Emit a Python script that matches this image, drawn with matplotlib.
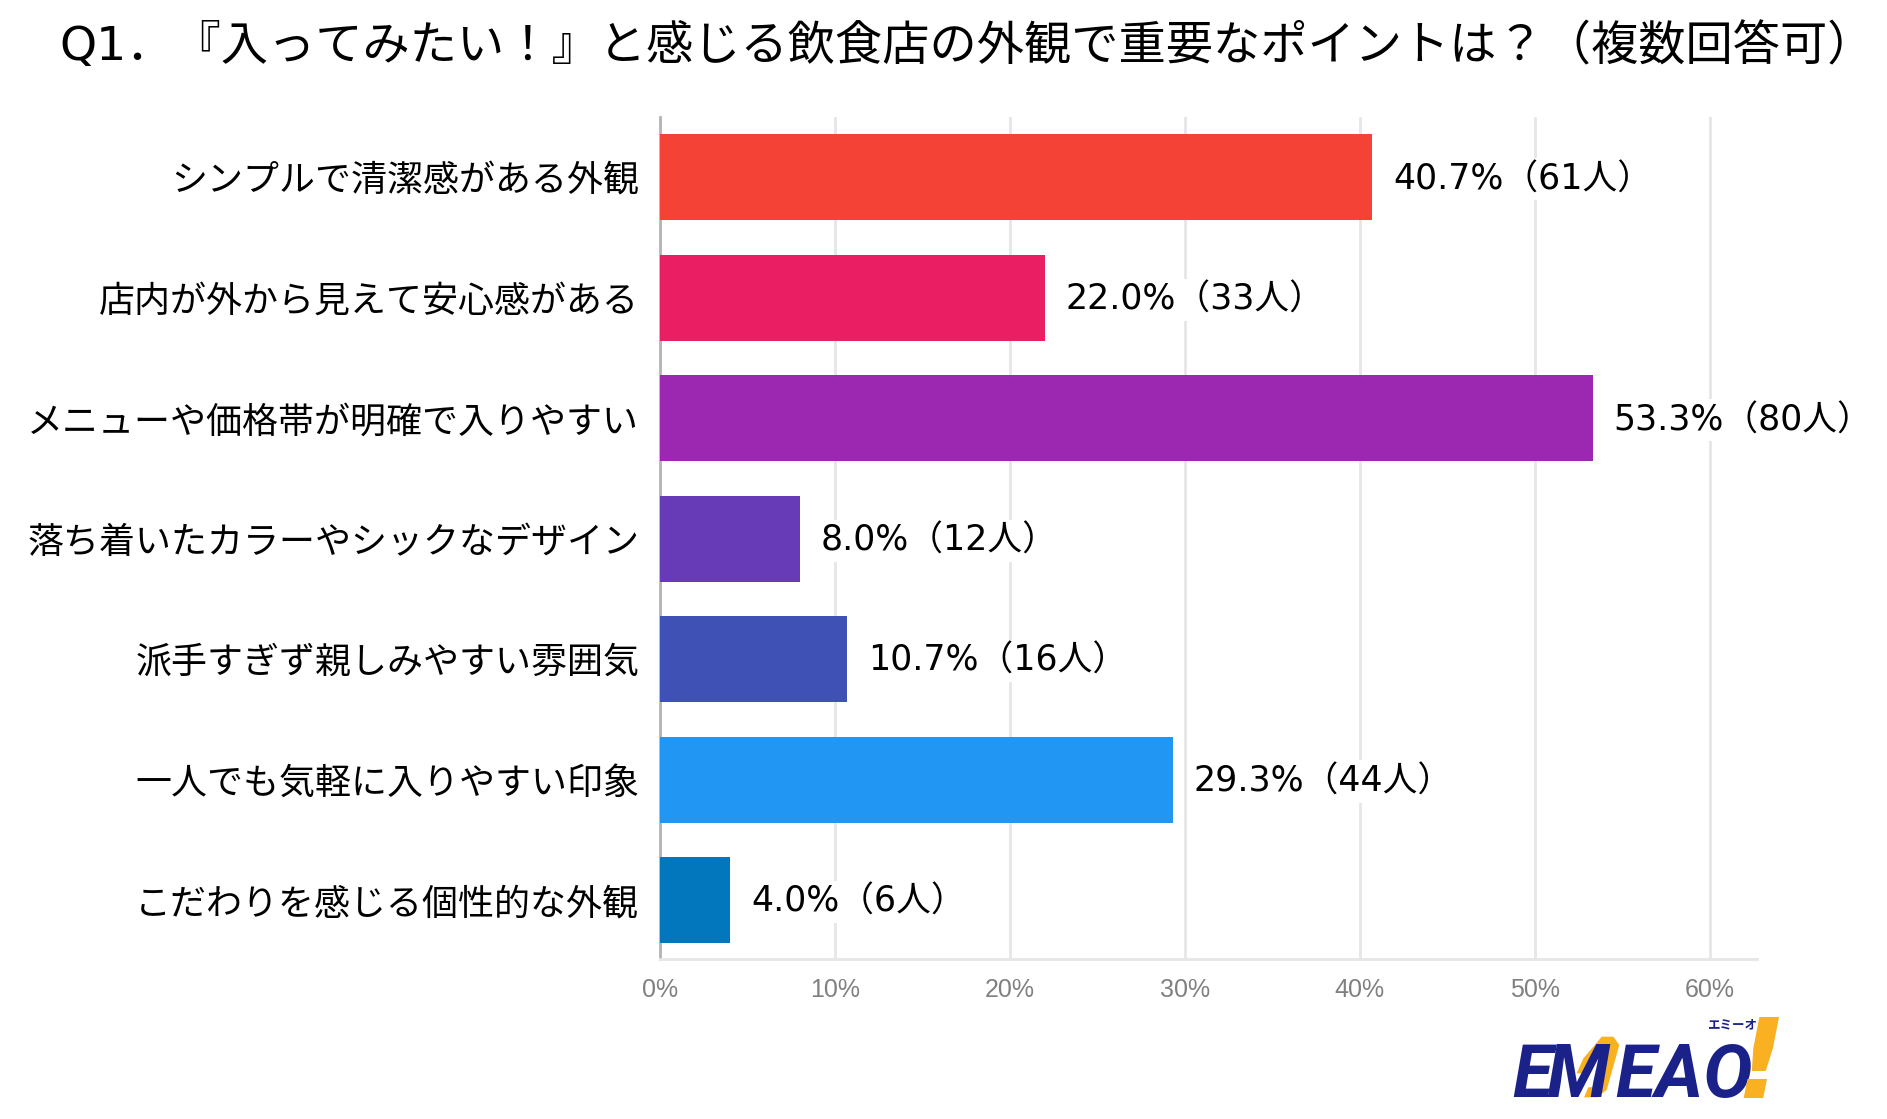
import matplotlib
matplotlib.use("Agg")
import matplotlib.pyplot as plt
from matplotlib.patches import Polygon

plt.rcParams['font.family'] = ['Noto Sans CJK JP', 'DejaVu Sans']

title = "Q1．『入ってみたい！』と感じる飲食店の外観で重要なポイントは？（複数回答可）"
categories = ["シンプルで清潔感がある外観", "店内が外から見えて安心感がある", "メニューや価格帯が明確で入りやすい",
              "落ち着いたカラーやシックなデザイン", "派手すぎず親しみやすい雰囲気", "一人でも気軽に入りやすい印象",
              "こだわりを感じる個性的な外観"]
percents = [40.7, 22.0, 53.3, 8.0, 10.7, 29.3, 4.0]
counts = [61, 33, 80, 12, 16, 44, 6]
colors = ["#F44336", "#E91E63", "#9C27B0", "#673AB7", "#3F51B5", "#2196F3", "#0277BD"]
ticks = [0, 10, 20, 30, 40, 50, 60]

W, H = 1887, 1119
wide_latin = ['DejaVu Sans', 'Noto Sans CJK JP']

fig = plt.figure(figsize=(W / 100, H / 100), dpi=100)
ax = fig.add_axes([660 / W, 1 - 959 / H, (1757 - 660) / W, (959 - 117) / H])

ax.barh(range(len(categories)), percents, height=0.714, color=colors, zorder=3)
ax.set_xlim(0, 62.7)
ax.set_ylim(6.49, -0.5)

ax.set_yticks(range(len(categories)))
ax.set_yticklabels(categories, fontsize=25.9, color="black")
ax.tick_params(axis='y', length=0, pad=15)

ax.set_xticks(ticks)
ax.set_xticklabels([f"{t}%" for t in ticks], fontsize=18, color="#808080",
                   family=['Liberation Sans'])
ax.tick_params(axis='x', length=0, pad=14)

ax.grid(True, axis='x', color="#e6e6e6", linewidth=2, zorder=0)
for name in ['top', 'right']:
    ax.spines[name].set_visible(False)
ax.spines['bottom'].set_color("#e6e6e6")
ax.spines['bottom'].set_linewidth(2)
ax.spines['left'].set_color("#b4b4b4")
ax.spines['left'].set_linewidth(2)

# 値ラベル（白い背景で目盛線を隠す）
for i, (p, c) in enumerate(zip(percents, counts)):
    ax.annotate(f"{p:.1f}%（{c}人）", (p, i), xytext=(15, -1.5), textcoords='offset points',
                va='center', ha='left', fontsize=25, color="black", zorder=4,
                family=wide_latin, bbox=dict(facecolor='white', edgecolor='none', pad=3))

fig.text(967 / W, 1 - 47 / H, title, ha='center', va='center', fontsize=34, color="black",
         family=wide_latin)

# ロゴ
navy = "#1A2188"
yellow = "#F9B122"
logo_font = ['Liberation Sans Narrow', 'Roboto']
for part, x in [("E", 1512), ("M", 1546), ("EAO", 1615)]:
    fig.text(x / W, 1 - 1097 / H, part, fontsize=53, color=navy, ha='left', va='baseline',
             family=logo_font, fontweight='bold', style='italic')
fig.text(1735 / W, 1 - 1098 / H, "!", fontsize=80, color=yellow, ha='left', va='baseline',
         family=['DejaVu Sans'], fontweight='bold', style='italic')
fig.text(1757 / W, 1 - 1025 / H, "エミーオ", fontsize=9, color=navy, ha='right', va='center',
         fontweight='bold')

# ロゴの M の右側（黄色の部分）
hook = [(455, 170), (490, 170), (508, 195), (470, 330), (440, 352), (402, 352), (415, 322), (440, 320),
        (475, 200), (450, 200), (420, 280), (380, 280), (400, 235), (430, 200)]
fig.add_artist(Polygon([((1450 + x / 3) / W, 1 - (980 + y / 3) / H) for x, y in hook],
                       closed=True, facecolor=yellow, edgecolor='none',
                       transform=fig.transFigure))

fig.savefig("out.png", dpi=100)
